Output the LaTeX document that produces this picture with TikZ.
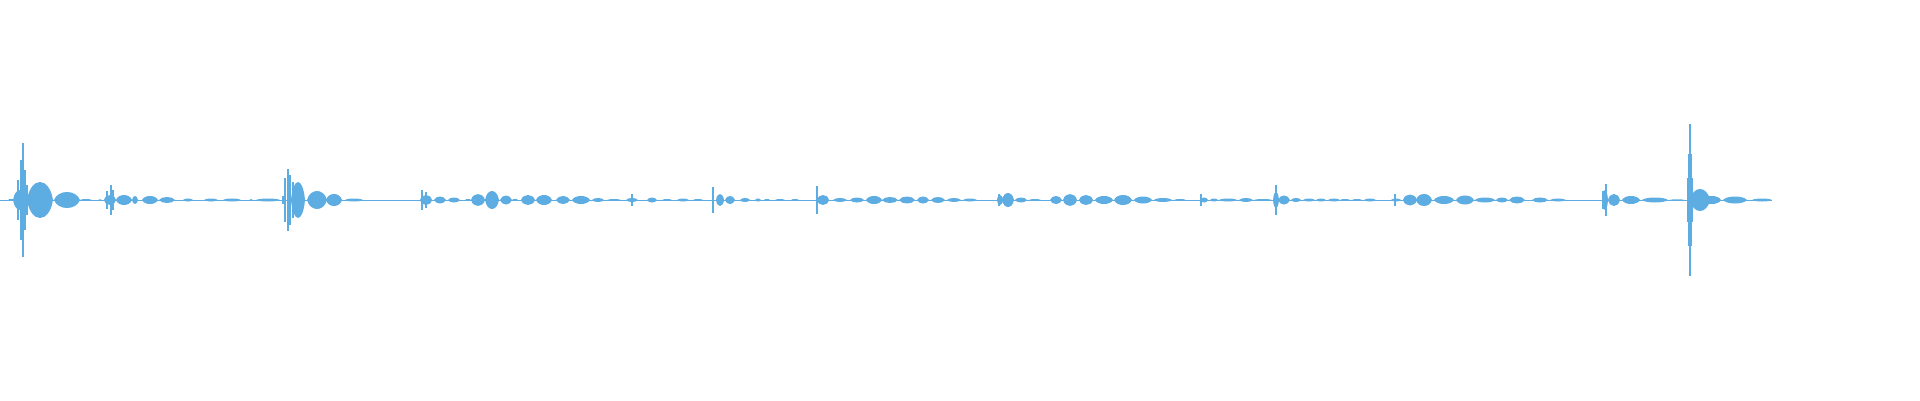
\documentclass[tikz,border=0pt]{standalone}
\begin{document}
\begin{tikzpicture}[x=1pt,y=1pt,
  wave/.style={fill=wavec,draw=none},
  base/.style={draw=wavec,line width=1pt}]
\definecolor{wavec}{RGB}{93,173,226}
\useasboundingbox (0,0) rectangle (1920,400);
\coordinate (b0) at (0,200);
\coordinate (b1) at (1772,200);
\draw[base] (b0) -- (b1);
\foreach \c/\w/\a in {11/3/1, 20/7/10, 40/13/18, 67/13/8, 86/6/1, 100/2/0.8, 110/6/5, 124/8/5, 135/3/4, 150/8/4, 167/8/3, 188/5/1.5, 211/7/1.5, 232/9/1.5, 251/2/1, 268/12/1.5, 298/7/18, 317/10/9, 334/8/6, 354/9/1.5, 426/6/5, 440/6/3.5, 454/6/2.5, 468/3/1, 478/7/6, 492/7/9, 506/6/4.5, 515/3/1, 528/7/5, 544/8/5, 563/7/4, 581/9/4, 598/6/2, 614/7/1, 632/6/2, 652/5/2.5, 667/5/1, 683/6/1.5, 698/5/1, 720/4/6, 730/5/4, 745/5/2, 758/3/1.5, 767/3/1, 780/5/1, 795/4/1, 823/6/5, 840/7/2, 857/7/2.5, 874/8/4, 890/8/3, 907/8/3.5, 923/6/3.5, 938/7/3, 954/7/2, 970/7/1.5, 1000/3/5, 1008/6/7, 1021/6/2.5, 1035/6/1, 1056/6/4, 1070/7/6, 1086/7/5, 1104/9/4, 1123/9/5, 1143/9/3.5, 1163/9/2, 1180/6/1, 1204/4/2.5, 1214/4/1.5, 1228/9/1.5, 1246/7/2, 1263/9/1, 1276/3/8, 1284/6/4.5, 1296/5/2, 1309/6/1.5, 1321/5/1.5, 1334/6/1.5, 1345/5/1, 1357/5/1, 1370/6/1.5, 1396/5/1.5, 1410/7/5.5, 1424/8/6, 1444/10/4, 1465/9/4.5, 1485/10/2.5, 1502/6/2.5, 1517/8/3.5, 1540/8/2.5, 1558/8/1.5, 1605/3/10, 1614/6/6, 1631/9/4, 1655/13/2.5, 1677/8/0.7, 1700/10/11, 1712/9/4, 1735/12/3.5, 1762/10/1.5}
  \fill[wave] ({\c-\w},200) .. controls ({\c-0.7*\w},{200+4*\a/3}) and ({\c+0.7*\w},{200+4*\a/3}) .. ({\c+\w},200)
     .. controls ({\c+0.7*\w},{200-4*\a/3}) and ({\c-0.7*\w},{200-4*\a/3}) .. ({\c-\w},200) -- cycle;
\foreach \x/\a in {18/20, 21/40, 23/57, 25/30, 27/15, 107/9, 111/15, 113/10, 283/4, 285/22, 288/31, 290/25, 293/18, 422/10, 426/8, 632/6, 713/13, 817/14, 999/6, 1201/6, 1276/15, 1395/6, 1603/9, 1606/16, 1688/22, 1689/46, 1690/76, 1691/46, 1692/22}
  \fill[wave] ({\x-0.6},{200-\a}) rectangle ({\x+0.6},{200+\a});
\end{tikzpicture}
\end{document}
